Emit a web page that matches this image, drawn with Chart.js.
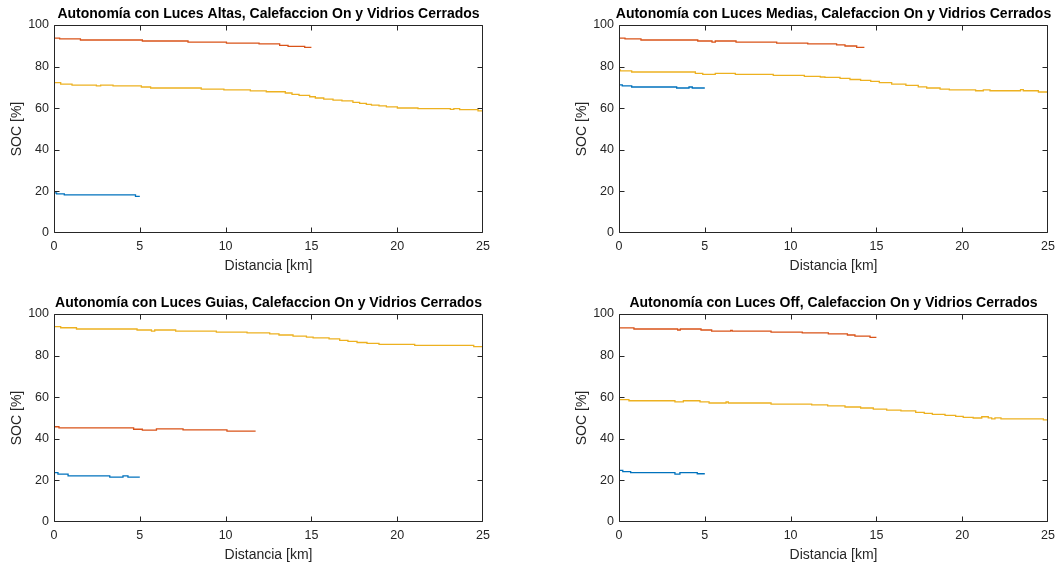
<!DOCTYPE html>
<html>
<head>
<meta charset="utf-8">
<script src="https://cdn.jsdelivr.net/npm/chart.js@4"></script>
<style>
  html, body { margin: 0; padding: 0; background: #fff; overflow: hidden; }
  canvas { position: absolute; }
</style>
</head>
<body>
<canvas id="altas" width="537" height="282" style="left:0px;top:0px"></canvas>
<canvas id="medias" width="537" height="282" style="left:565px;top:0px"></canvas>
<canvas id="guias" width="537" height="282" style="left:0px;top:289px"></canvas>
<canvas id="off" width="537" height="282" style="left:565px;top:289px"></canvas>
<script>
// [distancia km, SOC %] -- each level holds until the next point
var altasAzul = [[0,19.3],[0.15,18.8],[0.6,18.3],[4.75,17.6],[5,17.6]];
var altasNaranja = [[0,93.7],[0.33,93.3],[1.54,92.8],[5.15,92.3],[7.81,91.8],[10.05,91.3],[11.95,90.9],[13.15,90.2],[13.64,89.7],[14.61,89.2],[15,89.2]];
var altasAmarillo = [[0,72.3],[0.39,71.6],[1.05,71.1],[2.47,70.7],[2.72,71.1],[3.44,70.7],[5.09,70.2],[5.63,69.7],[8.58,69.2],[9.9,68.8],[11.44,68.3],[12.37,67.9],[13.48,67.3],[13.87,66.6],[14.28,66.2],[14.9,65.5],[15.23,64.9],[15.72,64.4],[16.26,63.9],[16.78,63.5],[17.42,62.8],[17.81,62.3],[18.2,61.8],[18.5,61.5],[18.94,61.1],[19.37,60.6],[20.01,60.1],[21.21,59.8],[23.1,59.4],[23.3,59.8],[23.64,59.3],[24.71,58.7],[25,58.7]];

var mediasAzul = [[0,71.2],[0.19,70.7],[0.74,70.2],[3.36,69.7],[4.08,70.2],[4.27,69.7],[5,69.7]];
var mediasNaranja = [[0,93.7],[0.35,93.3],[1.28,92.8],[4.59,92.3],[5.42,91.8],[5.61,92.3],[6.82,91.8],[9.19,91.3],[11,90.9],[12.68,90.4],[13.17,89.9],[13.85,89.2],[14.3,89.2]];
var mediasAmarillo = [[0,78.4],[0.08,77.9],[0.74,77.4],[4.45,76.7],[4.88,76.3],[5.61,76.7],[6.78,76.3],[8.99,75.8],[10.8,75.3],[11.73,75.0],[12.0,74.8],[12.88,74.3],[13.46,73.8],[14.08,73.4],[14.67,72.9],[15.17,72.3],[15.89,71.6],[16.72,71.0],[17.44,70.3],[17.93,69.7],[18.71,69.2],[19.25,68.8],[20.78,68.4],[21.23,68.8],[21.62,68.4],[23.4,68.9],[23.56,68.4],[24.44,67.8],[25,67.8]];

var guiasAzul = [[0,23.7],[0.23,23.0],[0.82,22.2],[3.25,21.6],[4.02,22.2],[4.31,21.6],[5,21.6]];
var guiasNaranja = [[0,45.8],[0.29,45.3],[4.64,44.6],[5.15,44.2],[5.97,44.8],[7.52,44.3],[10.08,43.7],[11.75,43.7]];
var guiasAmarillo = [[0,93.9],[0.39,93.4],[1.31,92.8],[4.84,92.3],[5.68,91.8],[5.87,92.3],[7.09,91.8],[9.46,91.3],[11.25,90.9],[12.57,90.4],[13.11,89.9],[13.93,89.4],[14.71,88.9],[15.1,88.5],[16.03,88.0],[16.65,87.3],[17.13,86.8],[17.66,86.3],[18.24,85.9],[18.94,85.4],[21.02,84.9],[24.46,84.3],[25,84.3]];

var offAzul = [[0,24.8],[0.22,24.2],[0.68,23.7],[3.26,23.0],[3.55,23.7],[4.56,23.2],[5,23.2]];
var offNaranja = [[0,93.3],[0.87,92.8],[3.42,92.3],[3.57,92.8],[4.78,92.3],[5.4,91.8],[6.51,92.1],[6.6,91.8],[8.86,91.3],[10.68,90.9],[12.2,90.4],[13.31,89.9],[13.75,89.4],[14.63,88.8],[15,88.8]];
var offAmarillo = [[0,58.8],[0.58,58.3],[3.26,57.8],[3.75,58.3],[4.72,57.8],[5.25,57.2],[6.24,57.7],[6.37,57.2],[8.86,56.7],[11.23,56.3],[12.16,55.8],[13.17,55.3],[14.08,54.8],[14.82,54.3],[15.6,53.8],[16.43,53.4],[17.29,52.7],[17.79,52.2],[18.26,51.7],[19.0,51.3],[19.62,50.8],[20.06,50.3],[20.64,50.0],[21.14,50.6],[21.52,50.1],[21.72,49.6],[21.91,50.1],[22.26,49.6],[24.73,49.1],[25,49.1]];

var titulos = [
    'Autonomía con Luces Altas, Calefaccion On y Vidrios Cerrados',
    'Autonomía con Luces Medias, Calefaccion On y Vidrios Cerrados',
    'Autonomía con Luces Guias, Calefaccion On y Vidrios Cerrados',
    'Autonomía con Luces Off, Calefaccion On y Vidrios Cerrados'
];
var xLabel = 'Distancia [km]';
var yLabel = 'SOC [%]';

Chart.defaults.font.family = '"Liberation Sans", Arial, Helvetica, sans-serif';
Chart.defaults.color = '#262626';

// box around the axes with inward ticks on all four sides
const matlabBox = {
    id: 'matlabBox',
    afterDraw: (chart) => {
        const {ctx, chartArea: a} = chart;
        const x = chart.scales.x, y = chart.scales.y;
        const L = Math.round(a.left) + 0.5, R = Math.round(a.right) - 0.5;
        const T = Math.round(a.top) + 0.5, B = Math.round(a.bottom) - 0.5;
        ctx.save();
        ctx.strokeStyle = '#262626';
        ctx.lineWidth = 1;
        ctx.beginPath();
        ctx.rect(L, T, R - L, B - T);
        x.ticks.forEach(function(t) {
            let px = Math.round(x.getPixelForValue(t.value)) + 0.5;
            px = Math.min(Math.max(px, L), R);
            ctx.moveTo(px, B); ctx.lineTo(px, B - 5);
            ctx.moveTo(px, T); ctx.lineTo(px, T + 5);
        });
        y.ticks.forEach(function(t) {
            let py = Math.round(y.getPixelForValue(t.value)) + 0.5;
            py = Math.min(Math.max(py, T), B);
            ctx.moveTo(L, py); ctx.lineTo(L + 5, py);
            ctx.moveTo(R, py); ctx.lineTo(R - 5, py);
        });
        ctx.stroke();
        ctx.restore();
    }
};

function serie(pts, color) {
    return {
        data: pts.map(function(el) { return {"x": el[0], "y": el[1]} }),
        borderColor: color,
        backgroundColor: color,
        borderWidth: 1.3,
        pointRadius: 0,
        stepped: true,
    };
}

function makePanel(id, titulo, azul, naranja, amarillo) {
    return new Chart(document.getElementById(id), {
        type: 'line',
        data: {
            datasets: [
                serie(azul, '#0072BD'),
                serie(naranja, '#D95319'),
                serie(amarillo, '#EDB120'),
            ],
        },
        options: {
            responsive: false,
            animation: false,
            layout: { padding: 0 },
            plugins: {
                legend: { display: false },
                tooltip: { enabled: false },
                title: {
                    display: true,
                    text: titulo,
                    color: '#000',
                    font: { size: 14, weight: 'bold' },
                    padding: { top: 5.5, bottom: 2.7 },
                },
            },
            scales: {
                x: {
                    type: 'linear',
                    position: 'bottom',
                    min: 0,
                    max: 25,
                    ticks: { stepSize: 5, padding: 6, font: { size: 12.5 }, color: '#262626' },
                    grid: { display: false, drawTicks: false },
                    border: { display: false },
                    title: {
                        display: true,
                        text: xLabel,
                        color: '#262626',
                        font: { size: 14 },
                        padding: { top: 0, bottom: 7 },
                    },
                    afterFit: function(s) { s.height = 49; },
                },
                y: {
                    type: 'linear',
                    position: 'left',
                    min: 0,
                    max: 100,
                    ticks: { stepSize: 20, padding: 5, font: { size: 12.5 }, color: '#262626' },
                    grid: { display: false, drawTicks: false },
                    border: { display: false },
                    title: {
                        display: true,
                        text: yLabel,
                        color: '#262626',
                        font: { size: 14 },
                        padding: { top: 9, bottom: 0 },
                    },
                    afterFit: function(s) { s.width = 54; },
                },
                y2: {
                    type: 'linear',
                    position: 'right',
                    ticks: { display: false },
                    grid: { display: false, drawTicks: false },
                    border: { display: false },
                    afterFit: function(s) { s.width = 54; },
                },
            },
        },
        plugins: [matlabBox],
    });
}

makePanel('altas', titulos[0], altasAzul, altasNaranja, altasAmarillo);
makePanel('medias', titulos[1], mediasAzul, mediasNaranja, mediasAmarillo);
makePanel('guias', titulos[2], guiasAzul, guiasNaranja, guiasAmarillo);
makePanel('off', titulos[3], offAzul, offNaranja, offAmarillo);
</script>
</body>
</html>
